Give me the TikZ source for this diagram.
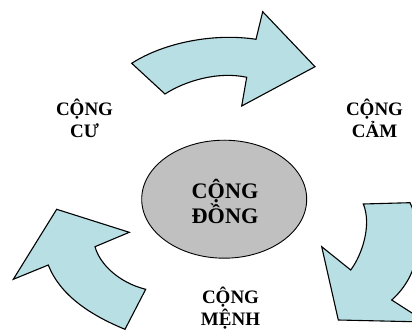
\documentclass[tikz,border=0pt]{standalone}
\usepackage{fontspec}
\setmainfont{Liberation Serif}
\usetikzlibrary{shapes.geometric}
\definecolor{arrowfill}{RGB}{184,224,228}
\definecolor{corefill}{RGB}{192,192,192}
\tikzset{
  bigarrow/.style={fill=arrowfill, draw=black, line width=1.1pt, line join=miter},
  sidelabel/.style={font=\fontsize{19}{21.7}\selectfont\bfseries, align=center, inner sep=0pt, anchor=base},
  coretext/.style={font=\fontsize{22.2}{25}\selectfont\bfseries, align=center, inner sep=0pt, anchor=base}
}
\begin{document}
\begin{tikzpicture}[x=1pt, y=-1pt]
  \useasboundingbox (0,0) rectangle (412,331);
  \clip (0,0) rectangle (412,331);

  % central ellipse
  \node[ellipse, draw=black, line width=0.9pt, fill=corefill,
        minimum width=165pt, minimum height=118pt, inner sep=0pt] (core) at (224.2,199.2) {};
  % the base anchor of a two-line node sits on its last line
  \node[coretext] (coretxt) at (225,223.3) {CỘNG\\ĐỒNG};

  % labels around the cycle
  \node[sidelabel] (cu)   at (84.5,137.3)  {CỘNG\\CƯ};
  \node[sidelabel] (cam)  at (374.5,137.7) {CỘNG\\CẢM};
  \node[sidelabel] (menh) at (230.5,325) {CỘNG\\MỆNH};

  % top curved arrow (towards the right)
  \draw[bigarrow] (131.7,63.3) -- (165,94)
    .. controls (185,81) and (218,71) .. (246.7,77.3)
    -- (241.7,106) -- (315,66.7) -- (262.7,11.7) -- (256,39.3)
    .. controls (215,33) and (165,42) .. cycle;

  % right curved arrow (downwards)
  \draw[bigarrow] (363.3,204) -- (410,202.7)
    .. controls (425,235) and (420,275) .. (391.7,300)
    -- (426,322) -- (338.3,320) -- (321.7,246.7) -- (350.7,270)
    .. controls (362,255) and (372,225) .. cycle;

  % left curved arrow (upwards)
  \draw[bigarrow] (56.7,209.3) -- (129.3,232.3) -- (95,246.7)
    .. controls (100,265) and (120,283) .. (145.7,289.3)
    -- (125,329.3)
    .. controls (90,315) and (60,295) .. (48.3,265)
    -- (13.3,279.3) -- cycle;
\end{tikzpicture}
\end{document}
